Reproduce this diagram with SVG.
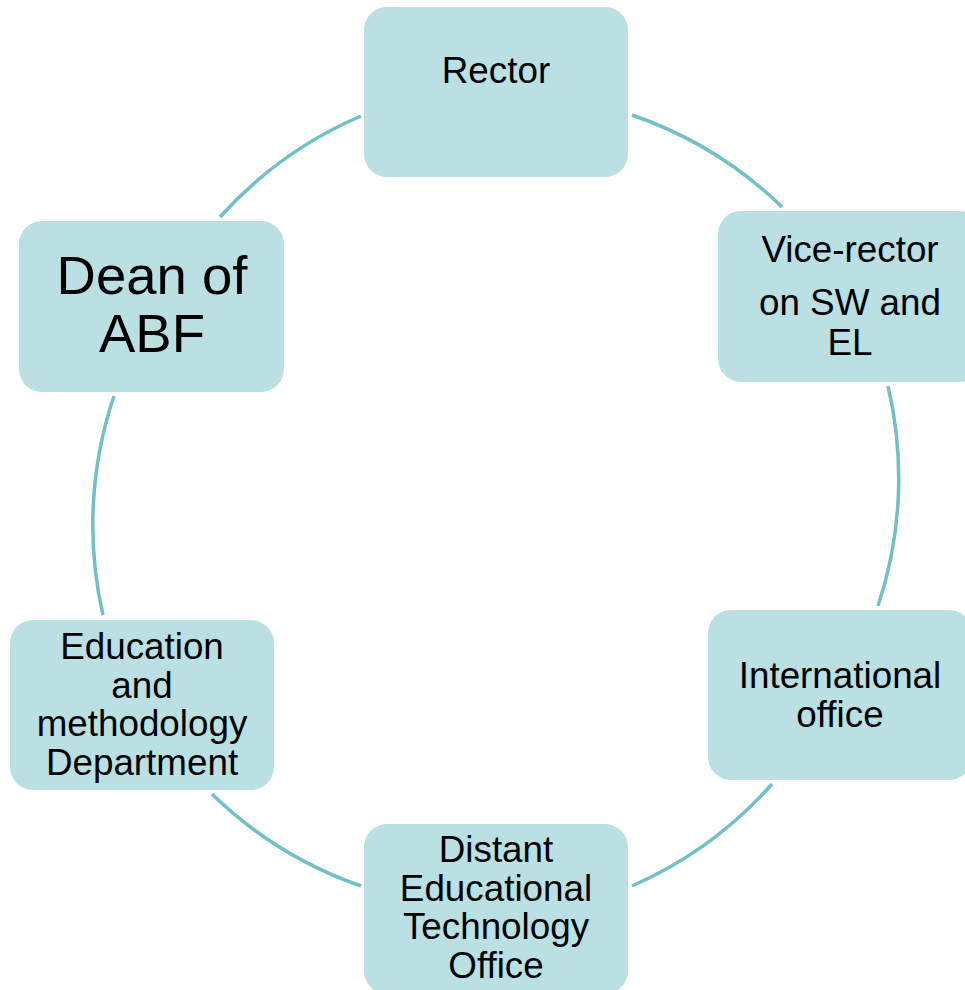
<svg xmlns="http://www.w3.org/2000/svg" width="965" height="990" viewBox="0 0 965 990">
<style>
.box{fill:#BAE0E3;stroke:none}
.t{font-family:"Liberation Sans",Arial,sans-serif;font-size:36.8px;fill:#000;text-anchor:middle}
.big{font-size:54.5px}
.arc{fill:none;stroke:#72C0C6;stroke-width:3.5}
</style>
<rect width="965" height="990" fill="#fff"/>
<g id="connectors">
<path class="arc" d="M632 115 A403 403 0 0 1 782 207"/>
<path class="arc" d="M888 386 A403 403 0 0 1 878 606"/>
<path class="arc" d="M772 784 A403 403 0 0 1 632 886"/>
<path class="arc" d="M361 886 A403 403 0 0 1 212 794"/>
<path class="arc" d="M103 615 A403 403 0 0 1 114 396"/>
<path class="arc" d="M220 217 A403 403 0 0 1 361 116"/>
</g>
<g id="rector">
<rect class="box" x="364" y="7" width="264" height="170" rx="23"/>
<text class="t" x="496" y="83">Rector</text>
</g>
<g id="vice-rector">
<rect class="box" x="718" y="211" width="264" height="171" rx="23"/>
<text class="t" x="850" y="262">Vice-rector</text>
<text class="t" x="850" y="315">on SW and</text>
<text class="t" x="850" y="355">EL</text>
</g>
<g id="international">
<rect class="box" x="708" y="610" width="264" height="170" rx="23"/>
<text class="t" x="840" y="688">International</text>
<text class="t" x="840" y="727">office</text>
</g>
<g id="distant">
<rect class="box" x="364" y="824" width="264" height="170" rx="23"/>
<text class="t" x="496" y="862">Distant</text>
<text class="t" x="496" y="900.5">Educational</text>
<text class="t" x="496" y="939">Technology</text>
<text class="t" x="496" y="977.5">Office</text>
</g>
<g id="education">
<rect class="box" x="10" y="620" width="264" height="170" rx="23"/>
<text class="t" x="142" y="659">Education</text>
<text class="t" x="142" y="697.5">and</text>
<text class="t" x="142" y="736">methodology</text>
<text class="t" x="142" y="774.5">Department</text>
</g>
<g id="dean">
<rect class="box" x="19" y="221" width="265" height="171" rx="23"/>
<text class="t big" x="152" y="294">Dean of</text>
<text class="t big" x="152" y="352">ABF</text>
</g>
</svg>
